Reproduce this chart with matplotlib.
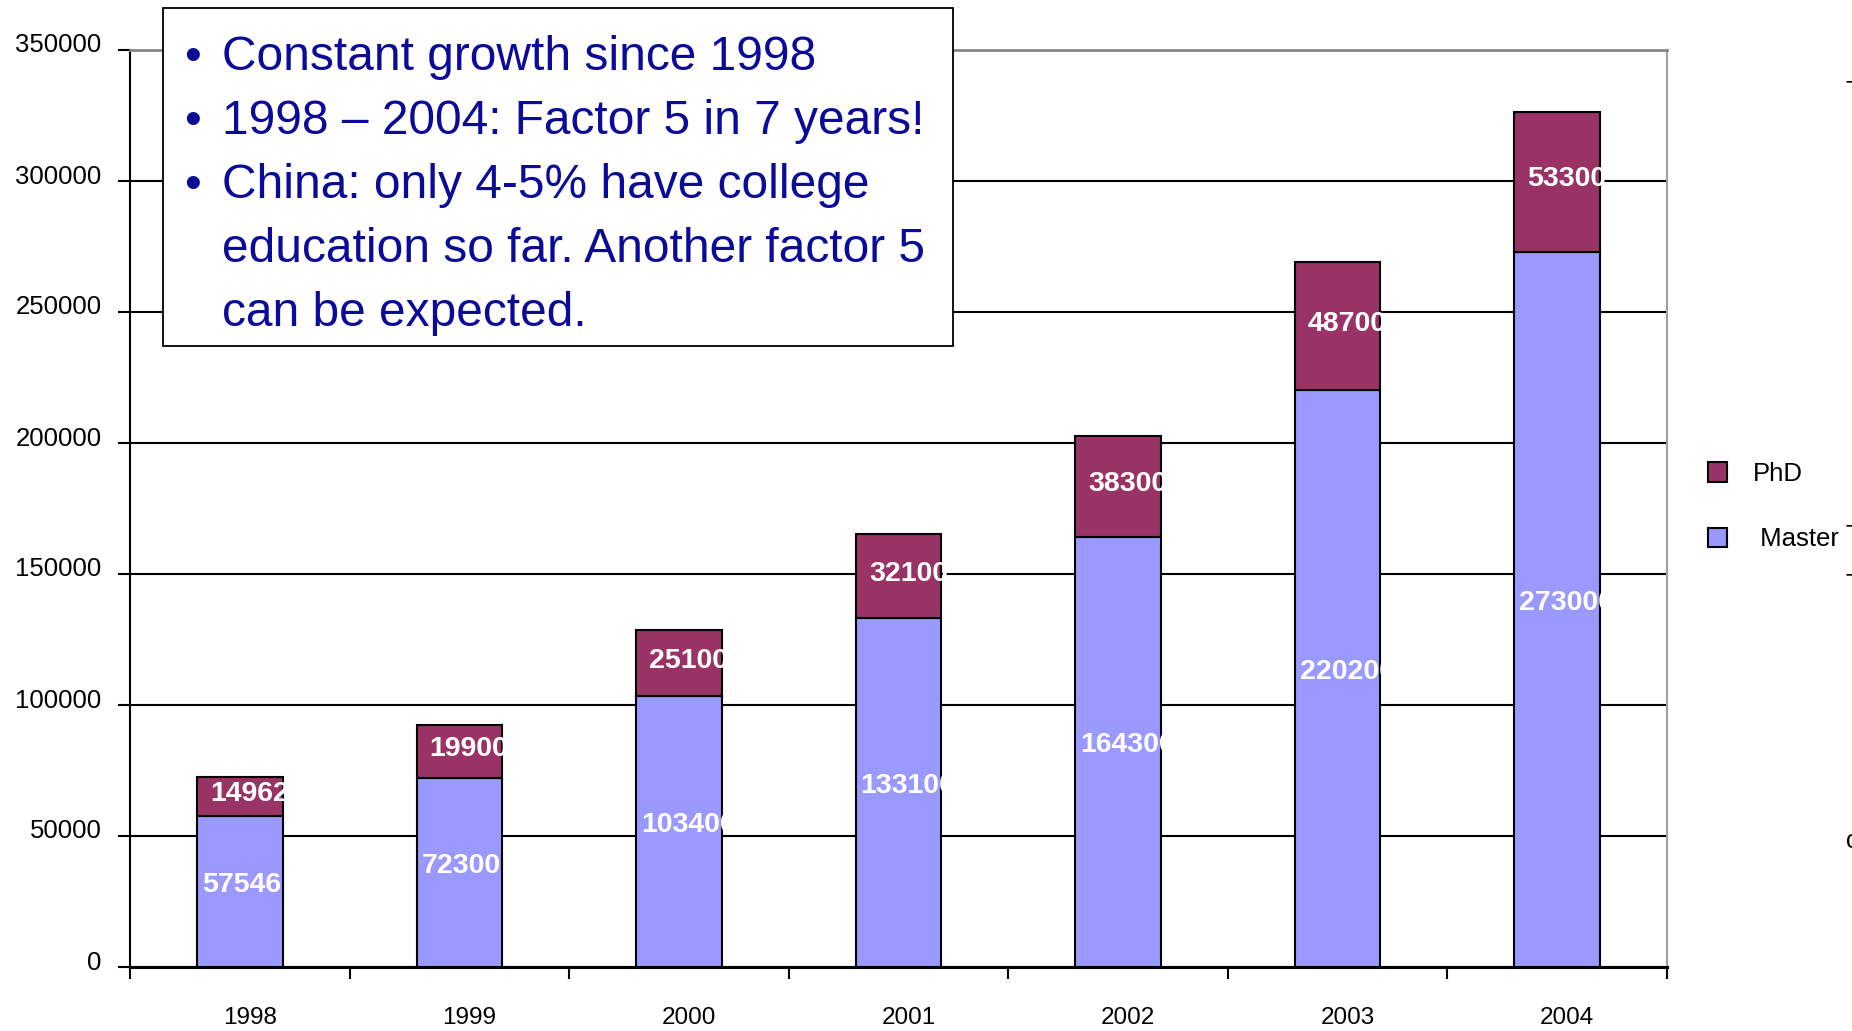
import matplotlib
matplotlib.use('Agg')
import numpy as np
from matplotlib import pyplot as plt
from matplotlib.patches import Rectangle, Patch
from matplotlib.transforms import ScaledTranslation

# chart data
years = ['1998', '1999', '2000', '2001', '2002', '2003', '2004']
master = [57546, 72300, 103400, 133100, 164300, 220200, 273000]
phd = [14962, 19900, 25100, 32100, 38300, 48700, 53300]
yticks = [0, 50000, 100000, 150000, 200000, 250000, 300000, 350000]

bullets = ['Constant growth since 1998',
           '1998 \u2013 2004: Factor 5 in 7 years!',
           'China: only 4-5% have college']
wrapped = ['education so far. Another factor 5',
           'can be expected.']

# colours of the old excel chart
cMaster = '#9999ff'
cPhd = '#993366'
cText = '#0b0b99'

plt.rcParams['font.family'] = ['Liberation Sans', 'DejaVu Sans']

W, H = 1852, 1031
fig = plt.figure(figsize=(W/100, H/100), dpi=100)
fig.patch.set_facecolor('white')

# helper: pixel position -> figure fraction
def fx(px): return px / W
def fy(py): return 1 - py / H

ax = fig.add_axes([fx(130), fy(967), fx(1667) - fx(130), fy(50) - fy(967)])

x = np.arange(len(years))
barW = 0.39
mBars = ax.bar(x, master, barW, color=cMaster, edgecolor='black', linewidth=1.5, zorder=3)
pBars = ax.bar(x, phd, barW, bottom=master, color=cPhd, edgecolor='black', linewidth=1.5, zorder=3)

# white value labels, cut off a little past the bar's right edge like in the original
clipExtra = 0.03
for i in range(len(years)):
    left = x[i] - barW/2
    t = ax.text(left + 0.022, master[i]/2 + 2500, str(master[i]), color='white',
                fontsize=20.5, fontweight='bold', ha='left', va='center', zorder=4)
    t.set_clip_path(Rectangle((left, 0), barW + clipExtra, master[i], transform=ax.transData))
    t = ax.text(left + 0.060, master[i] + phd[i]/2 + 1000, str(phd[i]), color='white',
                fontsize=20.5, fontweight='bold', ha='left', va='center', zorder=4)
    t.set_clip_path(Rectangle((left, master[i]), barW + clipExtra, phd[i], transform=ax.transData))

ax.set_xlim(-0.5, len(years) - 0.5)
ax.set_ylim(0, 350000)

# y axis
ax.set_yticks(yticks)
ax.set_yticklabels([str(v) for v in yticks])
ax.tick_params(axis='y', direction='out', length=8.6, width=1.5, pad=12, labelsize=18.5)
ax.yaxis.grid(True, color='black', linewidth=1.5, zorder=1)
ax.set_axisbelow(True)
ax.yaxis.get_gridlines()[-1].set_visible(False)
for lab in ax.get_yticklabels():
    lab.set_transform(lab.get_transform() + ScaledTranslation(0, 0.07, fig.dpi_scale_trans))

# x axis: labels at centers, tick marks between categories
ax.set_xticks(x)
ax.set_xticklabels(years)
ax.set_xticks(np.arange(-0.5, len(years)), minor=True)
ax.tick_params(axis='x', which='major', length=0, pad=29, labelsize=17.5)
ax.tick_params(axis='x', which='minor', direction='out', length=8.6, width=1.5)
for lab in ax.get_xticklabels():
    lab.set_transform(lab.get_transform() + ScaledTranslation(0.10, 0, fig.dpi_scale_trans))

ax.spines['left'].set_linewidth(1.5)
ax.spines['bottom'].set_linewidth(2.2)
ax.spines['top'].set_color('#888888')
ax.spines['top'].set_linewidth(2)
ax.spines['right'].set_color('#a0a0a0')
ax.spines['right'].set_linewidth(1.5)

# legend on the right, PhD first
handles = [Patch(facecolor=cPhd, edgecolor='black', linewidth=1.5),
           Patch(facecolor=cMaster, edgecolor='black', linewidth=1.5)]
fig.legend(handles, ['PhD', ' Master'], loc='upper left',
           bbox_to_anchor=(fx(1708), fy(462)), frameon=False, fontsize=18.5,
           handlelength=0.74, handleheight=0.78, handletextpad=1.0,
           labelspacing=1.6, borderpad=0, borderaxespad=0)

# text box with the bullet points
fig.add_artist(Rectangle((fx(163), fy(346)), fx(953) - fx(163), fy(8) - fy(346),
                         transform=fig.transFigure, facecolor='white',
                         edgecolor='black', linewidth=1.3, zorder=10))
lineY = 70
for s in bullets:
    fig.text(fx(192), fy(lineY), '\u2022', color=cText, fontsize=34.5,
             ha='center', va='baseline', zorder=11)
    fig.text(fx(222), fy(lineY), s, color=cText, fontsize=34.5,
             ha='left', va='baseline', zorder=11)
    lineY += 64
for s in wrapped:
    fig.text(fx(222), fy(lineY), s, color=cText, fontsize=34.5,
             ha='left', va='baseline', zorder=11)
    lineY += 64

# bits of text from the neighbouring slide, cut by the right edge
for py, s in [(92, 'T'), (536, 'T'), (585, 'T'), (841, 'c')]:
    fig.text(fx(1846), fy(py), s, fontsize=18, ha='left', va='center')

fig.savefig('out.png', dpi=100)
